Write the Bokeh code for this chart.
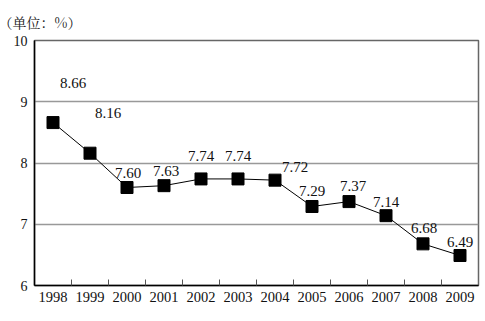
import numpy as np
from bokeh.plotting import figure
from bokeh.models import ColumnDataSource, FixedTicker, LabelSet
from bokeh.core.properties import value
from bokeh.embed import file_html
from bokeh.resources import INLINE

years = ["1998", "1999", "2000", "2001", "2002", "2003", "2004", "2005", "2006", "2007", "2008", "2009"]
values = [8.66, 8.16, 7.60, 7.63, 7.74, 7.74, 7.72, 7.29, 7.37, 7.14, 6.68, 6.49]
y_ticks = [6, 7, 8, 9, 10]

SERIF = "Liberation Serif"

xs = list(range(1, len(years) + 1))
labels = ["%.2f" % v for v in values]
# label offsets (layout only)
dx = [20, 18, 1, 2, 0, 0, 20, 0, 4, 0, 1, 0]
dy = [35, 35, 10, 10, 18, 18, 8, 10, 11, 9, 11, 8]

src = ColumnDataSource(dict(x=xs, y=values, t=labels, dx=dx, dy=dy))

p = figure(width=485, height=321, output_backend="svg", toolbar_location=None,
           x_range=(0.5, len(years) + 0.5), y_range=(6, 10),
           min_border_left=34, min_border_right=7, min_border_top=40, min_border_bottom=36)
p.title.text = "（单位：%）"
p.title.text_font = "Noto Serif CJK SC"
p.title.text_font_size = "14px"
p.title.text_font_style = "normal"
p.title.text_color = "#222222"
p.title.offset = -36
p.title.standoff = 18

p.line("x", "y", source=src, line_color="black", line_width=1)
p.scatter("x", "y", source=src, marker="square", size=12, fill_color="black", line_color="black")
p.add_layout(LabelSet(x="x", y="y", text="t", source=src, x_offset="dx", y_offset="dy",
                      text_font=value(SERIF), text_font_size=value("15px"), text_align="center",
                      text_baseline="alphabetic", text_color="#111111"))

p.xaxis.ticker = FixedTicker(ticks=xs, minor_ticks=[x + 0.5 for x in xs[:-1]])
p.xaxis.major_label_overrides = {x: y for x, y in zip(xs, years)}
p.xaxis.major_tick_in = 0
p.xaxis.major_tick_out = 0
p.xaxis.minor_tick_in = 6
p.xaxis.minor_tick_out = 0
p.xaxis.minor_tick_line_color = "#555555"
p.xaxis.axis_line_color = "black"
p.xaxis.axis_line_width = 1.5
p.xaxis.major_label_text_font = SERIF
p.xaxis.major_label_text_font_size = "14.5px"
p.xaxis.major_label_text_color = "#111111"
p.xaxis.major_label_standoff = 6

p.yaxis.ticker = FixedTicker(ticks=y_ticks)
p.yaxis.major_tick_in = 0
p.yaxis.major_tick_out = 0
p.yaxis.minor_tick_line_color = None
p.yaxis.axis_line_color = "black"
p.yaxis.axis_line_width = 1.5
p.yaxis.major_label_text_font = SERIF
p.yaxis.major_label_text_font_size = "14px"
p.yaxis.major_label_text_color = "#111111"
p.yaxis.major_label_standoff = 7

p.xgrid.grid_line_color = None
p.ygrid.grid_line_color = "#999999"
p.ygrid.grid_line_width = 1.5
p.outline_line_color = "#666666"
p.outline_line_width = 1.5

open("out.html", "w").write(file_html(p, INLINE))
